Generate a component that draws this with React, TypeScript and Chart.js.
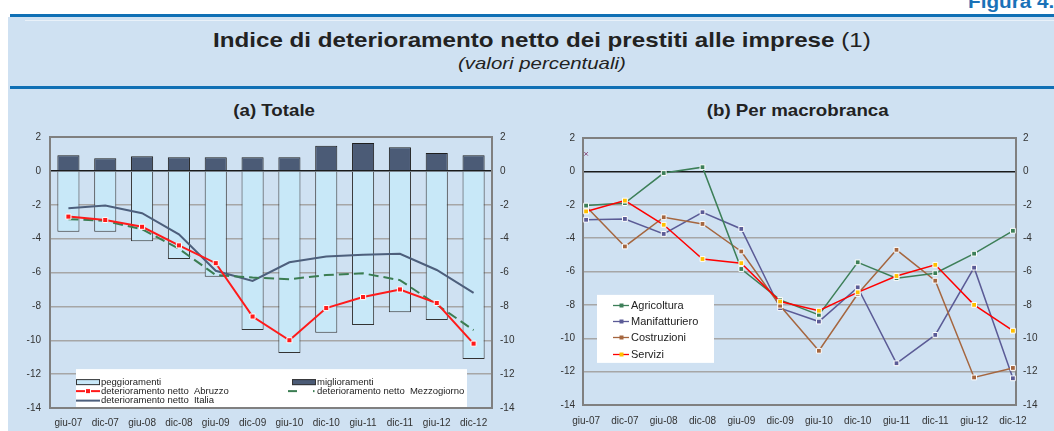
import React, { useEffect, useRef } from "react";
import { Chart, registerables } from "chart.js";

Chart.register(...registerables);

const FONT = '"Liberation Sans", Arial, Helvetica, sans-serif';

// ---------- shared ----------
const categories = ["giu-07", "dic-07", "giu-08", "dic-08", "giu-09", "dic-09", "giu-10", "dic-10", "giu-11", "dic-11", "giu-12", "dic-12"];
const yMin = -14;
const yMax = 2;
const yStep = 2;

// ---------- (a) Totale ----------
const peggioramenti = [-3.6, -3.6, -4.15, -5.2, -6.25, -9.4, -10.75, -9.55, -9.1, -8.35, -8.8, -11.1];
const miglioramenti = [0.92, 0.75, 0.87, 0.8, 0.8, 0.8, 0.8, 1.48, 1.64, 1.4, 1.05, 0.92];
const abruzzo = [-2.7, -2.9, -3.3, -4.4, -5.45, -8.6, -10.0, -8.1, -7.45, -7.0, -7.8, -10.2];
const mezzogiorno = [-2.85, -2.95, -3.45, -4.6, -6.15, -6.3, -6.4, -6.15, -6.05, -6.45, -7.9, -9.4];
const italia = [-2.2, -2.05, -2.5, -3.75, -5.9, -6.5, -5.4, -5.05, -4.95, -4.9, -5.85, -7.2];

// ---------- (b) Per macrobranca ----------
const agricoltura = [-2.05, -1.9, -0.1, 0.25, -5.85, -7.7, -8.6, -5.45, -6.4, -6.1, -4.93, -3.56];
const manifatturiero = [-2.9, -2.85, -3.75, -2.45, -3.45, -8.2, -9.0, -6.95, -11.5, -9.8, -5.77, -12.4];
const costruzioni = [-2.1, -4.5, -2.75, -3.15, -4.8, -8.05, -10.75, -7.35, -4.7, -6.55, -12.35, -11.78];
const servizi = [-2.4, -1.75, -3.2, -5.25, -5.5, -7.8, -8.35, -7.25, -6.27, -5.6, -8.0, -9.55];
const strayMarker = [1.05, null, null, null, null, null, null, null, null, null, null, null];

const C = {
  pegg: "#c8e8f8",
  migl: "#4b5b76",
  abruzzo: "#ff1a1a",
  mezzo: "#3b7d52",
  italia: "#4d5f7c",
  agri: "#3d7f58",
  manif: "#5b5b96",
  costr: "#a5663f",
  serv: "#ff0000",
  servMark: "#ffc000",
  grid: "#a6a6a6",
  zero: "#1a1a1a",
  frame: "#808080",
  tick: "#333333",
};

const toXY = (arr: (number | null)[]) => arr.map((v, i) => ({ x: i, y: v }));

const framePlugin = {
  id: "frame",
  afterDatasetsDraw(chart: any) {
    const { ctx, chartArea: a } = chart;
    ctx.save();
    ctx.strokeStyle = C.frame;
    ctx.lineWidth = 2;
    ctx.strokeRect(a.left, a.top, a.right - a.left, a.bottom - a.top);
    ctx.restore();
  },
};

const frameUnderPlugin = {
  id: "frameUnder",
  beforeDatasetsDraw(chart: any) {
    const { ctx, chartArea: a } = chart;
    ctx.save();
    ctx.strokeStyle = C.frame;
    ctx.lineWidth = 2;
    ctx.strokeRect(a.left, a.top, a.right - a.left, a.bottom - a.top);
    ctx.restore();
  },
};

const legendA = {
  id: "legendA",
  beforeDatasetsDraw(chart: any) {
    const { ctx, chartArea: a } = chart;
    const ys = chart.scales.y;
    const top = ys.getPixelForValue(-12) - 5;
    ctx.save();
    ctx.fillStyle = "#ffffff";
    ctx.fillRect(a.left + 26, top, a.right - a.left - 51, a.bottom - top);
    ctx.font = `9.5px ${FONT}`;
    ctx.textBaseline = "middle";
    ctx.fillStyle = "#222";
    const r1 = top + 13;
    const r2 = r1 + 9;
    const r3 = r2 + 9.5;
    const c1 = a.left + 26;
    const c2 = a.left + 242;
    // peggioramenti
    ctx.fillStyle = C.pegg;
    ctx.fillRect(c1, r1 - 3, 24, 6);
    ctx.strokeStyle = "#333";
    ctx.lineWidth = 1;
    ctx.strokeRect(c1 + 0.5, r1 - 3 + 0.5, 23, 5);
    // miglioramenti
    ctx.fillStyle = C.migl;
    ctx.fillRect(c2, r1 - 3, 24, 6);
    ctx.strokeRect(c2 + 0.5, r1 - 3 + 0.5, 23, 5);
    // abruzzo
    ctx.strokeStyle = C.abruzzo;
    ctx.lineWidth = 2;
    ctx.beginPath();
    ctx.moveTo(c1, r2);
    ctx.lineTo(c1 + 24, r2);
    ctx.stroke();
    ctx.fillStyle = "#fff";
    ctx.fillRect(c1 + 9, r2 - 3, 6, 6);
    ctx.fillStyle = C.abruzzo;
    ctx.fillRect(c1 + 10, r2 - 2, 4, 4);
    // mezzogiorno
    ctx.strokeStyle = C.mezzo;
    ctx.beginPath();
    ctx.moveTo(c2 - 4, r2);
    ctx.lineTo(c2 + 5, r2);
    ctx.stroke();
    ctx.fillStyle = C.mezzo;
    ctx.fillRect(c2 + 21, r2 - 1, 1.5, 2);
    // italia
    ctx.strokeStyle = C.italia;
    ctx.beginPath();
    ctx.moveTo(c1, r3);
    ctx.lineTo(c1 + 24, r3);
    ctx.stroke();
    ctx.fillStyle = "#222";
    ctx.fillText("peggioramenti", c1 + 25, r1);
    ctx.fillText("deterioramento netto  Abruzzo", c1 + 25, r2);
    ctx.fillText("deterioramento netto  Italia", c1 + 25, r3);
    ctx.fillText("miglioramenti", c2 + 25, r1);
    ctx.fillText("deterioramento netto  Mezzogiorno", c2 + 25, r2);
    ctx.restore();
  },
};

const legendB = {
  id: "legendB",
  beforeDatasetsDraw(chart: any) {
    const { ctx, chartArea: a } = chart;
    const ys = chart.scales.y;
    const r0 = ys.getPixelForValue(-8);
    ctx.save();
    ctx.fillStyle = "#ffffff";
    ctx.fillRect(a.left + 14, r0 - 10, 117, 68);
    ctx.font = `11px ${FONT}`;
    ctx.textBaseline = "middle";
    const items = [
      { label: "Agricoltura", line: C.agri, mark: C.agri },
      { label: "Manifatturiero", line: C.manif, mark: C.manif },
      { label: "Costruzioni", line: C.costr, mark: C.costr },
      { label: "Servizi", line: C.serv, mark: C.servMark },
    ];
    const x0 = a.left + 30;
    items.forEach((it, i) => {
      const y = Math.round(r0 + i * 16.3) + 0.5;
      ctx.strokeStyle = it.line;
      ctx.lineWidth = 1.3;
      ctx.beginPath();
      ctx.moveTo(x0, y);
      ctx.lineTo(x0 + 16, y);
      ctx.stroke();
      ctx.fillStyle = it.mark;
      ctx.fillRect(x0 + 6.5, y - 2, 4, 4);
      ctx.fillStyle = "#222";
      ctx.fillText(it.label, x0 + 18, y);
    });
    ctx.restore();
  },
};

function yAxes(leftW: number, rightW: number, padL: number, padR: number) {
  const tickFont = { size: 10, family: FONT };
  return {
    y: {
      position: "left",
      min: yMin,
      max: yMax,
      ticks: { stepSize: yStep, color: C.tick, font: tickFont, padding: padL },
      grid: {
        color: (c: any) => (c.tick && c.tick.value === 0 ? C.zero : C.grid),
        lineWidth: 1.5,
        drawTicks: false,
      },
      border: { display: false },
      afterFit: (s: any) => {
        s.width = leftW;
      },
    },
    y2: {
      position: "right",
      min: yMin,
      max: yMax,
      ticks: { stepSize: yStep, color: C.tick, font: tickFont, padding: padR },
      grid: { display: false, drawTicks: false },
      border: { display: false },
      afterFit: (s: any) => {
        s.width = rightW;
      },
    },
  };
}

function ChartA() {
  const ref = useRef<HTMLCanvasElement>(null);
  useEffect(() => {
    const chart = new Chart(ref.current as HTMLCanvasElement, {
      type: "bar",
      data: {
        labels: categories,
        datasets: [
          {
            type: "line",
            label: "deterioramento netto  Abruzzo",
            data: abruzzo,
            borderColor: C.abruzzo,
            backgroundColor: C.abruzzo,
            borderWidth: 2,
            pointStyle: "rect",
            pointRadius: 3.6,
            pointBackgroundColor: C.abruzzo,
            pointBorderColor: "#ffffff",
            pointBorderWidth: 1,
            tension: 0,
            order: 0,
            yAxisID: "y",
          },
          {
            type: "line",
            label: "deterioramento netto  Mezzogiorno",
            data: mezzogiorno,
            borderColor: C.mezzo,
            borderWidth: 2,
            borderDash: [10, 5],
            pointRadius: 0,
            tension: 0,
            order: 1,
            yAxisID: "y",
          },
          {
            type: "line",
            label: "deterioramento netto  Italia",
            data: italia,
            borderColor: C.italia,
            borderWidth: 2,
            pointRadius: 0,
            tension: 0,
            order: 2,
            yAxisID: "y",
          },
          {
            type: "bar",
            label: "miglioramenti",
            data: miglioramenti,
            backgroundColor: C.migl,
            borderColor: "#1f1f1f",
            borderWidth: 1,
            grouped: false,
            barPercentage: 0.6,
            categoryPercentage: 1,
            order: 3,
            yAxisID: "y",
          },
          {
            type: "bar",
            label: "peggioramenti",
            data: peggioramenti,
            backgroundColor: C.pegg,
            borderColor: "#333333",
            borderWidth: 1,
            grouped: false,
            barPercentage: 0.6,
            categoryPercentage: 1,
            order: 3,
            yAxisID: "y",
          },
        ],
      } as any,
      options: {
        animation: false,
        responsive: false,
        layout: { padding: { top: 17, left: 0, right: 0, bottom: 0 } },
        plugins: { legend: { display: false }, tooltip: { enabled: false }, title: { display: false } },
        scales: {
          x: {
            offset: true,
            grid: { display: false, drawTicks: false },
            border: { display: false },
            ticks: { color: C.tick, font: { size: 10, family: FONT }, padding: 9, maxRotation: 0, autoSkip: false },
            afterFit: (s: any) => {
              s.height = 23;
            },
          },
          ...yAxes(50, 35, 9, 8),
        } as any,
      },
      plugins: [legendA, framePlugin],
    });
    return () => chart.destroy();
  }, []);
  return <canvas ref={ref} width={527} height={311} style={{ position: "absolute", left: 0, top: 120 }} />;
}

function ChartB() {
  const ref = useRef<HTMLCanvasElement>(null);
  useEffect(() => {
    const common = {
      type: "line",
      borderWidth: 1.5,
      pointStyle: "rect",
      pointRadius: 3.4,
      pointBorderColor: "#ffffff",
      pointBorderWidth: 1,
      tension: 0,
      yAxisID: "y",
    };
    const chart = new Chart(ref.current as HTMLCanvasElement, {
      type: "line",
      data: {
        datasets: [
          { ...common, label: "Servizi", data: toXY(servizi), borderColor: C.serv, pointBackgroundColor: C.servMark, order: 0 },
          { ...common, label: "Agricoltura", data: toXY(agricoltura), borderColor: C.agri, pointBackgroundColor: C.agri, order: 1 },
          { ...common, label: "Costruzioni", data: toXY(costruzioni), borderColor: C.costr, pointBackgroundColor: C.costr, order: 2 },
          { ...common, label: "Manifatturiero", data: toXY(manifatturiero), borderColor: C.manif, pointBackgroundColor: C.manif, order: 3 },
          {
            type: "line",
            label: "",
            data: toXY(strayMarker),
            showLine: false,
            pointStyle: "crossRot",
            pointRadius: 2.5,
            pointBorderColor: "#8a4f7d",
            pointBorderWidth: 1,
            yAxisID: "y",
            order: 4,
          },
        ],
      } as any,
      options: {
        animation: false,
        responsive: false,
        layout: { padding: { top: 18, left: 0, right: 0, bottom: 0 } },
        plugins: { legend: { display: false }, tooltip: { enabled: false }, title: { display: false } },
        scales: {
          x: {
            type: "linear",
            min: -0.08,
            max: categories.length - 1 + 0.08,
            grid: { display: false, drawTicks: false },
            border: { display: false },
            afterBuildTicks: (s: any) => {
              s.ticks = categories.map((_, i) => ({ value: i }));
            },
            ticks: {
              color: C.tick,
              font: { size: 10, family: FONT },
              padding: 10,
              maxRotation: 0,
              autoSkip: false,
              callback: (v: any) => categories[Math.round(Number(v))] ?? "",
            },
            afterFit: (s: any) => {
              s.height = 26;
            },
          },
          ...yAxes(56, 38, 8, 7),
        } as any,
      },
      plugins: [frameUnderPlugin, legendB],
    });
    return () => chart.destroy();
  }, []);
  return <canvas ref={ref} width={527} height={311} style={{ position: "absolute", left: 527, top: 120 }} />;
}

export default function App() {
  const abs: React.CSSProperties = { position: "absolute" };
  const center = (top: number, left: number, width: number, size: number, scale: number, extra: React.CSSProperties, children: React.ReactNode) => (
    <div style={{ ...abs, top, left, width, textAlign: "center", fontSize: size, lineHeight: `${size}px`, whiteSpace: "nowrap" }}>
      <span style={{ display: "inline-block", transform: `scaleX(${scale})`, transformOrigin: "center", ...extra }}>{children}</span>
    </div>
  );
  return (
    <div
      style={{
        position: "fixed",
        left: 0,
        top: 0,
        width: 1054,
        height: 431,
        overflow: "hidden",
        background: "#ffffff",
        fontFamily: FONT,
        color: "#222",
      }}
    >
      <div style={{ ...abs, left: 8, top: 17, width: 1046, height: 414, background: "#cfe1f2" }} />
      <div style={{ ...abs, left: 25, top: 20, width: 1029, height: 1, background: "rgba(255,255,255,0.55)" }} />
      <div style={{ ...abs, left: 10, top: 14, width: 1044, height: 3, background: "#1070b5" }} />
      <div style={{ ...abs, left: 10, top: 86, width: 1044, height: 2.5, background: "#1070b5" }} />
      <div
        style={{
          ...abs,
          left: 968,
          top: -7,
          fontSize: 18,
          lineHeight: "18px",
          fontWeight: "bold",
          color: "#1a72b8",
          whiteSpace: "nowrap",
          transform: "scaleX(1.15)",
          transformOrigin: "left",
        }}
      >
        Figura 4.
      </div>
      {center(29, 30, 1024, 21, 1.15, {}, (
        <>
          <b>Indice di deterioramento netto dei prestiti alle imprese</b> (1)
        </>
      ))}
      {center(55, 30, 1024, 17, 1.2, { fontStyle: "italic" }, "(valori percentuali)")}
      {center(102, 174, 200, 17, 1.1, { fontWeight: "bold" }, "(a) Totale")}
      {center(102, 648, 300, 17, 1.1, { fontWeight: "bold" }, "(b) Per macrobranca")}
      <ChartA />
      <ChartB />
    </div>
  );
}
